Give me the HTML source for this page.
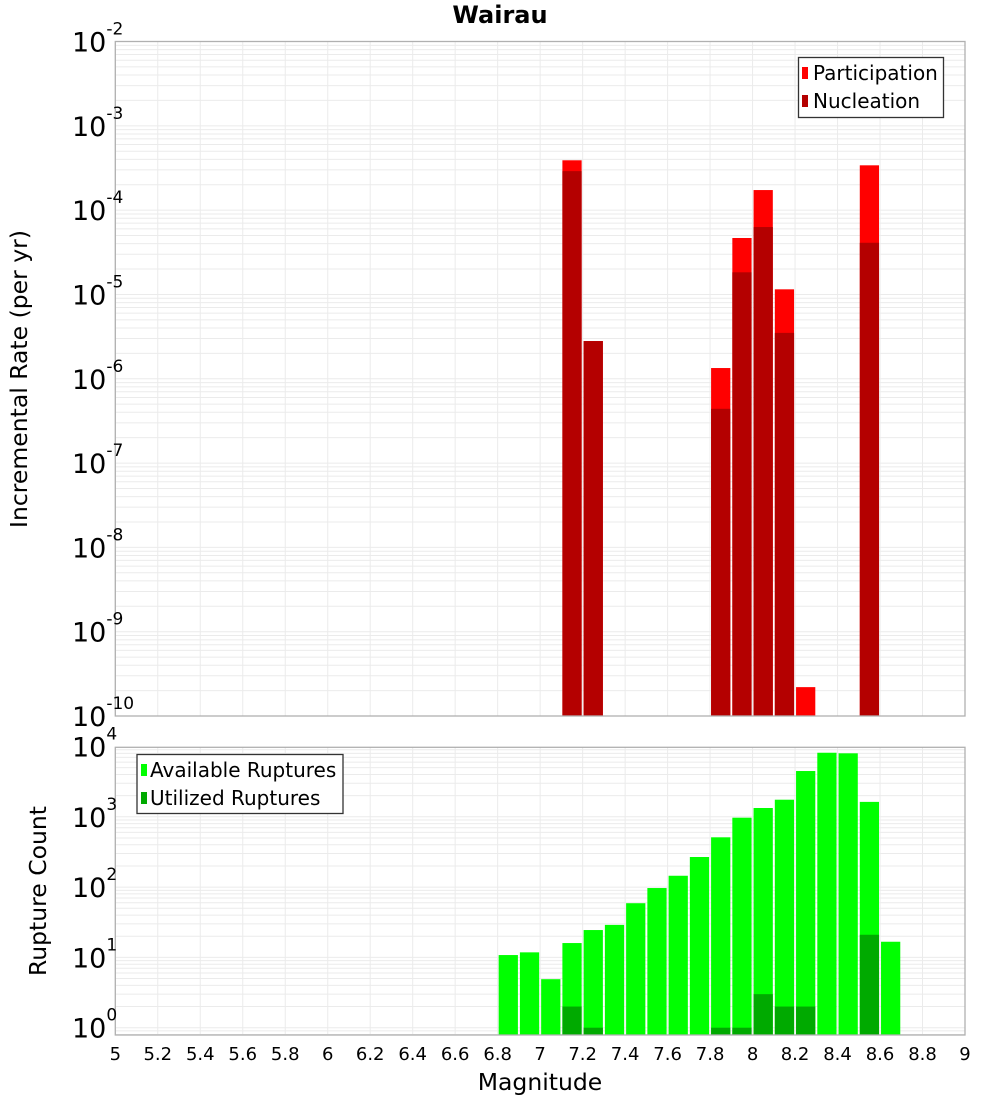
<!DOCTYPE html>
<html><head><meta charset="utf-8"><style>
body{margin:0;background:#fff;}
svg{display:block;font-family:"DejaVu Sans","Liberation Sans",sans-serif;}
</style></head><body>
<svg id="c" width="1000" height="1100" xmlns="http://www.w3.org/2000/svg"></svg>
<script>
const bins = [6.85,6.95,7.05,7.15,7.25,7.35,7.45,7.55,7.65,7.75,7.85,7.95,8.05,8.15,8.25,8.35,8.45,8.55,8.65];
const available = [10.8,11.8,4.9,16,24.5,29,59,97,145,268,511,971,1334,1750,4480,8150,8000,1630,16.7];
const utilized = [0,0,0,2,1,0,0,0,0,0,1,1,3,2,2,0,0,21,0];
const rateMags = [7.15,7.25,7.85,7.95,8.05,8.15,8.25,8.55];
const participation = [3.9e-4,2.8e-6,1.34e-6,4.67e-5,1.73e-4,1.15e-5,2.2e-10,3.4e-4];
const nucleation = [2.9e-4,2.8e-6,4.4e-7,1.83e-5,6.3e-5,3.5e-6,0,4.1e-5];
const xTicks = [5,5.2,5.4,5.6,5.8,6,6.2,6.4,6.6,6.8,7,7.2,7.4,7.6,7.8,8,8.2,8.4,8.6,8.8,9];
const topExps = [-2,-3,-4,-5,-6,-7,-8,-9,-10];
const botExps = [0,1,2,3,4];

const svg = document.getElementById('c');
const NS = 'http://www.w3.org/2000/svg';
function mk(tag, attrs, parent){const e=document.createElementNS(NS,tag);for(const k in attrs)e.setAttribute(k,attrs[k]);(parent||svg).appendChild(e);return e;}
const X0=115.3, X1=965;
const xs = m => X0 + (m-5)/(9-5)*(X1-X0);
const T0=41.5, T1=716;
const yTop = v => T0 + (-2 - Math.log10(v))*(T1-T0)/8;
const B0=747.3, B1=1035, PD=70.3, ZERO=1027.7;
const yBot = v => ZERO - Math.log10(v)*PD;

function grid(top,bottom,yfn,eLo,eHi,name){
  const g=mk('g',{});
  
  
  for(const t of xTicks){const x=xs(t);mk('line',{x1:x,x2:x,y1:top,y2:bottom,stroke:'#ebebeb','stroke-width':1},g);}
  for(let e=eLo;e<eHi;e++){for(let k=1;k<10;k++){const y=yfn(k*Math.pow(10,e));if(y>=top&&y<=bottom)mk('line',{x1:X0,x2:X1,y1:y,y2:y,stroke:'#ebebeb','stroke-width':1},g);}}
}
grid(T0,T1,yTop,-10,-2,'top-grid');
grid(B0,B1,yBot,-1,4,'bottom-grid');

for(let i=0;i<rateMags.length;i++){
  const x=xs(rateMags[i]-0.05)+1, w=xs(rateMags[i]+0.05)-xs(rateMags[i]-0.05)-2;
  if(participation[i]>0){const y=yTop(participation[i]);const r=mk('rect',{x:x,y:y,width:w,height:T1-y,fill:'#ff0000'});
    
    }
  if(nucleation[i]>0){const y=yTop(nucleation[i]);const r=mk('rect',{x:x,y:y,width:w,height:T1-y,fill:'#b40000'});
    
    }
}
for(let i=0;i<bins.length;i++){
  const x=xs(bins[i]-0.05)+1, w=xs(bins[i]+0.05)-xs(bins[i]-0.05)-2;
  if(available[i]>0){const y=yBot(available[i]);const r=mk('rect',{x:x,y:y,width:w,height:B1-y,fill:'#00ff00'});
    
    }
  if(utilized[i]>0){const y=yBot(utilized[i]);const r=mk('rect',{x:x,y:y,width:w,height:B1-y,fill:'#00aa00'});
    
    }
}
const f1=mk('rect',{x:X0,y:T0,width:X1-X0,height:T1-T0,fill:'none',stroke:'#b0b0b0','stroke-width':1.3});


const f2=mk('rect',{x:X0,y:B0,width:X1-X0,height:B1-B0,fill:'none',stroke:'#b0b0b0','stroke-width':1.3});



function expLabel(e,y,name){
  const t=mk('text',{x:72,y:y+10,'text-anchor':'start','font-size':27,fill:'#000'});
  
  
  const a=mk('tspan',{},t);a.textContent='10';
  const b=mk('tspan',{dy:-17,'font-size':17},t);b.textContent=String(e);
}
for(const e of topExps){expLabel(e,yTop(Math.pow(10,e)),'top-y-tick-label');}
for(const e of botExps){expLabel(e,yBot(Math.pow(10,e)),'bottom-y-tick-label');}
for(const t of xTicks){const l=mk('text',{x:xs(t),y:1060,'text-anchor':'middle','font-size':18,fill:'#000'});l.textContent=String(t);
  
  }
</script>
<div style="position:absolute;left:0;top:0;width:1000px;height:1100px;pointer-events:none">
<svg width="1000" height="1100" xmlns="http://www.w3.org/2000/svg" style="font-family:'DejaVu Sans','Liberation Sans',sans-serif">
<text x="500" y="23" text-anchor="middle" font-size="24" font-weight="bold">Wairau</text>
<text transform="translate(27,379) rotate(-90)" text-anchor="middle" font-size="23.5">Incremental Rate (per yr)</text>
<text transform="translate(46,891) rotate(-90)" text-anchor="middle" font-size="23.5">Rupture Count</text>
<text x="540" y="1090" text-anchor="middle" font-size="23.5">Magnitude</text>
<g>
<rect x="798.5" y="57.5" width="145" height="60" fill="#fff" stroke="#333" stroke-width="1.3"/>
<rect x="802" y="67" width="6" height="12" fill="#ff0000"/>
<text x="813" y="80" font-size="20">Participation</text>
<rect x="802" y="95" width="6" height="12" fill="#b40000"/>
<text x="813" y="108" font-size="20">Nucleation</text>
</g>
<g>
<rect x="137" y="754.5" width="206" height="59" fill="#fff" stroke="#333" stroke-width="1.3"/>
<rect x="141" y="764" width="6" height="12" fill="#00ff00"/>
<text x="150" y="777" font-size="20">Available Ruptures</text>
<rect x="141" y="792" width="6" height="12" fill="#00aa00"/>
<text x="150" y="805" font-size="20">Utilized Ruptures</text>
</g>
</svg></div>
</body></html>
